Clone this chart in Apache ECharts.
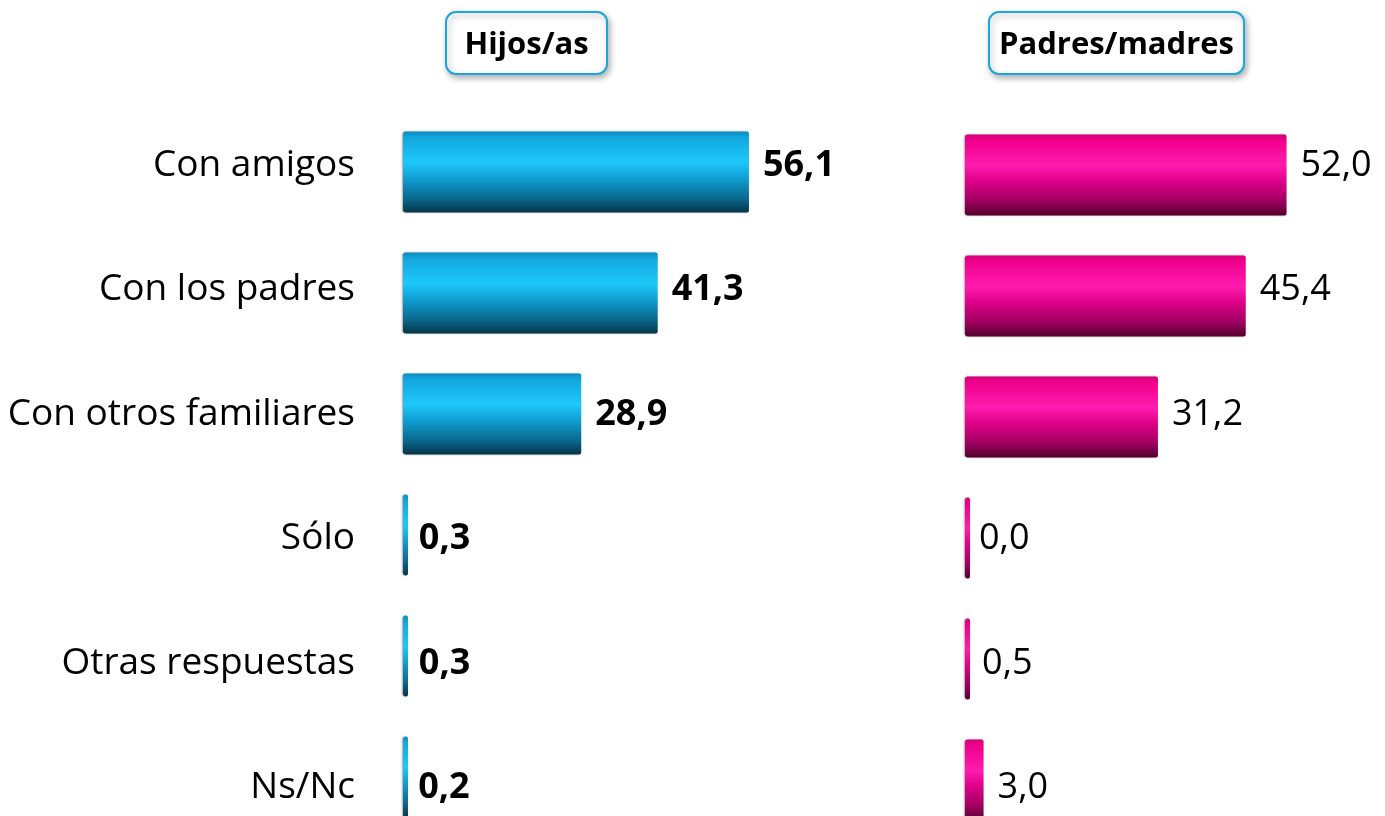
<!DOCTYPE html>
<html>
<head>
<meta charset="utf-8">
<title>Con quién pasan el tiempo libre</title>
<script src="https://cdn.jsdelivr.net/npm/echarts@6/dist/echarts.min.js"></script>
<style>
	html, body { margin: 0; padding: 0; background: #fff; }
	#chart { width: 1385px; height: 816px; }
</style>
</head>
<body>
<div id="chart"></div>
<script>
// datos
var categories = ['Con amigos', 'Con los padres', 'Con otros familiares', 'Sólo', 'Otras respuestas', 'Ns/Nc'];
var hijosValues = [56.1, 41.3, 28.9, 0.3, 0.3, 0.2];
var padresValues = [52.0, 45.4, 31.2, 0.0, 0.5, 3.0];
var panelTitles = ['Hijos/as', 'Padres/madres'];

var FONT = '"Open Sans", "Noto Sans", sans-serif';

function fmt(p) {
	return p.value.toFixed(1).replace('.', ',');
}

// degradado tipo cilindro
function cylinder(stops) {
	return new echarts.graphic.LinearGradient(0, 0, 0, 1, stops.map(function(s) {
		return { offset: s[0], color: s[1] };
	}));
}
var blueFill = cylinder([[0, '#0b8cc0'], [0.08, '#13a8de'], [0.38, '#1ec8fa'], [0.58, '#0f9ed2'], [0.82, '#0a6a90'], [1, '#063548']]);
var pinkFill = cylinder([[0, '#d4007a'], [0.08, '#f0008c'], [0.38, '#ff1caf'], [0.58, '#de0088'], [0.82, '#a00060'], [1, '#52002c']]);

// recuadro de título
function titleBox(x, w, text) {
	return {
		type: 'group',
		left: x,
		top: 11,
		children: [{
			type: 'rect',
			shape: { x: 0, y: 0, width: w, height: 62, r: 10 },
			style: {
				fill: '#fff', stroke: '#1ba6de', lineWidth: 2,
				shadowBlur: 6, shadowOffsetX: 2, shadowOffsetY: 3, shadowColor: 'rgba(0,0,0,0.3)'
			}
		}, {
			type: 'text',
			x: w / 2,
			y: 33,
			style: {
				text: text, fill: '#000', font: 'bold 31px ' + FONT,
				textAlign: 'center', textVerticalAlign: 'middle'
			}
		}]
	};
}

var chart = echarts.init(document.getElementById('chart'));

var grids = [
	{ left: 403, width: 370, top: 111.5, height: 726 },   // barras hijos
	{ left: 403, width: 370, top: 103, height: 747 },     // etiquetas hijos
	{ left: 965, width: 371, top: 114.5, height: 726 },   // barras padres
	{ left: 965, width: 371, top: 103, height: 747 }      // etiquetas padres
].map(function(g) {
	g.outerBoundsMode = 'none';
	g.containLabel = false;
	return g;
});

var xAxes = grids.map(function(g, i) {
	return { type: 'value', gridIndex: i, min: 0, max: 60, show: false };
});

var yAxes = grids.map(function(g, i) {
	return {
		type: 'category',
		gridIndex: i,
		data: categories,
		inverse: true,
		axisLine: { show: false },
		axisTick: { show: false },
		splitLine: { show: false },
		axisLabel: {
			show: i === 1,
			margin: 48,
			fontSize: 37,
			fontFamily: FONT,
			color: '#000'
		}
	};
});

function barSeries(idx, values, fill) {
	return {
		type: 'bar',
		xAxisIndex: idx,
		yAxisIndex: idx,
		data: values,
		barWidth: 81,
		barMinHeight: 5,
		silent: true,
		itemStyle: {
			color: fill,
			borderRadius: [3, 2, 2, 3],
			shadowBlur: 2,
			shadowOffsetX: -1,
			shadowColor: 'rgba(0,0,0,0.35)'
		}
	};
}

function labelSeries(idx, values, bold) {
	return {
		type: 'bar',
		xAxisIndex: idx,
		yAxisIndex: idx,
		data: values,
		barWidth: 10,
		silent: true,
		itemStyle: { color: 'rgba(0,0,0,0)' },
		label: {
			show: true,
			position: 'right',
			distance: 14,
			formatter: fmt,
			fontSize: 36,
			fontFamily: FONT,
			fontWeight: bold ? 'bold' : 'normal',
			color: '#000'
		}
	};
}

var option = {
	animation: false,
	backgroundColor: '#fff',
	grid: grids,
	xAxis: xAxes,
	yAxis: yAxes,
	graphic: [
		titleBox(445, 161, panelTitles[0]),
		titleBox(988, 255, panelTitles[1])
	],
	series: [
		barSeries(0, hijosValues, blueFill),
		labelSeries(1, hijosValues, true),
		barSeries(2, padresValues, pinkFill),
		labelSeries(3, padresValues, false)
	]
};

chart.setOption(option);
</script>
</body>
</html>
